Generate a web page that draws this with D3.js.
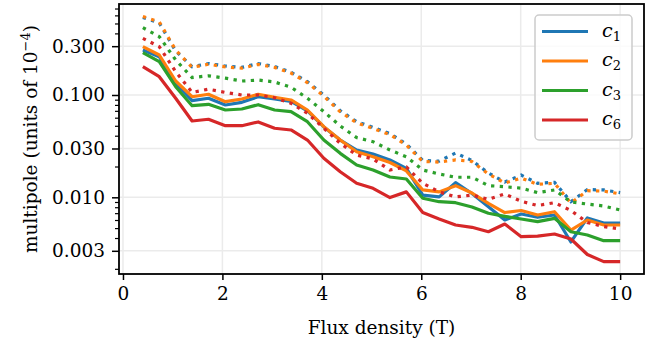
<!DOCTYPE html>
<html>
<head>
<meta charset="utf-8">
<script src="https://cdn.jsdelivr.net/npm/d3@7"></script>
<style>
  body { margin: 0; background: #fff; }
  text { font-family: "DejaVu Serif", serif; }
</style>
</head>
<body>
<div id="chart"></div>
<script>
/* Multipole vs flux density - log scale */

const fluxDensity = [0.40, 0.73, 1.06, 1.39, 1.72, 2.06, 2.39, 2.72, 3.05, 3.38,
  3.71, 4.04, 4.37, 4.70, 5.03, 5.37, 5.70, 6.03, 6.36, 6.69,
  7.02, 7.35, 7.68, 8.01, 8.34, 8.68, 9.01, 9.34, 9.67, 10.00];

// solid lines
const c1Solid = [0.275, 0.237, 0.130, 0.0880, 0.0929, 0.0798, 0.0848, 0.0962, 0.0914, 0.0864,
  0.0698, 0.0487, 0.0363, 0.0290, 0.0265, 0.0232, 0.0192, 0.0105, 0.0101, 0.0139,
  0.0109, 0.00809, 0.00600, 0.00687, 0.00638, 0.00671, 0.00366, 0.00628, 0.00561, 0.00561];
const c2Solid = [0.297, 0.246, 0.137, 0.0962, 0.1016, 0.0860, 0.0914, 0.1016, 0.0950, 0.0894,
  0.0713, 0.0490, 0.0363, 0.0279, 0.0249, 0.0219, 0.0181, 0.0118, 0.0113, 0.0130,
  0.0110, 0.00874, 0.00710, 0.00743, 0.00671, 0.00723, 0.00479, 0.00600, 0.00536, 0.00536];
const c3Solid = [0.259, 0.212, 0.1205, 0.0786, 0.0811, 0.0713, 0.0730, 0.0804, 0.0713, 0.0687,
  0.0548, 0.0363, 0.0269, 0.0207, 0.0185, 0.0158, 0.0151, 0.00978, 0.00906, 0.00886,
  0.00804, 0.00698, 0.00652, 0.00614, 0.00578, 0.00623, 0.00461, 0.00428, 0.00377, 0.00377];
const c6Solid = [0.189, 0.151, 0.0929, 0.0557, 0.0579, 0.0501, 0.0501, 0.0545, 0.0473, 0.0455,
  0.0363, 0.0241, 0.0178, 0.0137, 0.01225, 0.00995, 0.0113, 0.00710, 0.00614, 0.00536,
  0.00509, 0.00461, 0.00548, 0.00412, 0.00417, 0.00438, 0.00391, 0.00276, 0.00235, 0.00235];

// dotted lines
const c1Dotted = [0.572, 0.506, 0.269, 0.189, 0.203, 0.192, 0.186, 0.203, 0.190, 0.167,
  0.135, 0.100, 0.0702, 0.0548, 0.0483, 0.0420, 0.0332, 0.0229, 0.0226, 0.0271,
  0.0229, 0.0173, 0.0141, 0.0165, 0.0137, 0.0140, 0.00906, 0.0119, 0.0118, 0.0111];
const c2Dotted = [0.585, 0.517, 0.275, 0.186, 0.200, 0.188, 0.183, 0.199, 0.186, 0.164,
  0.132, 0.0975, 0.0685, 0.0535, 0.0471, 0.0410, 0.0324, 0.0224, 0.0221, 0.0232,
  0.0224, 0.0169, 0.0138, 0.0154, 0.0134, 0.0137, 0.00880, 0.0116, 0.0115, 0.0108];
const c3Dotted = [0.455, 0.372, 0.220, 0.148, 0.154, 0.146, 0.137, 0.140, 0.134, 0.119,
  0.0929, 0.0687, 0.0498, 0.0383, 0.0350, 0.0290, 0.0249, 0.0185, 0.0169, 0.0157,
  0.0157, 0.0130, 0.0127, 0.0123, 0.0111, 0.0118, 0.0090, 0.0086, 0.00822, 0.00751];
const c6Dotted = [0.358, 0.297, 0.169, 0.106, 0.114, 0.106, 0.100, 0.100, 0.0941, 0.0830,
  0.0662, 0.0473, 0.0337, 0.0259, 0.0237, 0.0185, 0.0198, 0.0137, 0.0113, 0.0101,
  0.0105, 0.00956, 0.0108, 0.00914, 0.00831, 0.00886, 0.00743, 0.00567, 0.00518, 0.00490];

const legendSubscripts = ['1', '2', '3', '6'];
const xTicks = [0, 2, 4, 6, 8, 10];
const yMajorTicks = [0.003, 0.01, 0.03, 0.1, 0.3];
const yTickLabels = ['0.003', '0.010', '0.030', '0.100', '0.300'];
const yMinorTicks = [0.002, 0.004, 0.005, 0.006, 0.007, 0.008, 0.009,
  0.02, 0.04, 0.05, 0.06, 0.07, 0.08, 0.09, 0.2, 0.4, 0.5, 0.6, 0.7];

const colors = ['#1f77b4', '#ff7f0e', '#2ca02c', '#d62728'];
const solidSeries = [c1Solid, c2Solid, c3Solid, c6Solid];
const dottedSeries = [c1Dotted, c2Dotted, c3Dotted, c6Dotted];

// Dimensions
const width = 657;
const height = 347;
const margin = { top: 4, right: 13, bottom: 73, left: 119 };
const fontSize = '18.5px';

const svg = d3.select('#chart')
  .append('svg')
  .attr('width', width)
  .attr('height', height);

// Scales
const x = d3.scaleLinear()
  .domain([-0.08, 10.48])
  .range([margin.left, width - margin.right]);

const y = d3.scaleLog()
  .domain([0.00178, 0.775])
  .range([height - margin.bottom, margin.top]);

const gridColor = '#ebebeb';

// Grid
svg.append('g')
  .selectAll('line')
  .data(xTicks)
  .enter()
  .append('line')
  .attr('x1', d => x(d))
  .attr('x2', d => x(d))
  .attr('y1', margin.top)
  .attr('y2', height - margin.bottom)
  .attr('stroke', gridColor)
  .attr('stroke-width', 1.5);

svg.append('g')
  .selectAll('line')
  .data(yMajorTicks)
  .enter()
  .append('line')
  .attr('x1', margin.left)
  .attr('x2', width - margin.right)
  .attr('y1', d => y(d))
  .attr('y2', d => y(d))
  .attr('stroke', gridColor)
  .attr('stroke-width', 1.5);

// Lines
const line = d3.line()
  .x((d, i) => x(fluxDensity[i]))
  .y(d => y(d));

const plotG = svg.append('g');
colors.forEach((color, i) => {
  plotG.append('path')
    .datum(solidSeries[i])
    .attr('d', line)
    .attr('fill', 'none')
    .attr('stroke', color)
    .attr('stroke-width', 3.2)
    .attr('stroke-linejoin', 'round');

  plotG.append('path')
    .datum(dottedSeries[i])
    .attr('d', line)
    .attr('fill', 'none')
    .attr('stroke', color)
    .attr('stroke-width', 3.2)
    .attr('stroke-dasharray', '3.3,5.4');
});

// Axes
const xAxis = svg.append('g')
  .attr('transform', `translate(0,${height - margin.bottom})`)
  .call(d3.axisBottom(x).tickValues(xTicks).tickSize(6).tickPadding(7).tickFormat(d3.format('d')));

const yAxis = svg.append('g')
  .attr('transform', `translate(${margin.left},0)`)
  .call(d3.axisLeft(y).tickValues(yMajorTicks).tickSize(7).tickPadding(7)
    .tickFormat((d, i) => yTickLabels[i]));

svg.append('g')
  .attr('transform', `translate(${margin.left},0)`)
  .call(d3.axisLeft(y).tickValues(yMinorTicks).tickSize(4).tickFormat(''))
  .call(g => g.select('.domain').remove())
  .selectAll('line')
  .attr('stroke-width', 1.2);

[xAxis, yAxis].forEach(ax => {
  ax.select('.domain').remove();
  ax.selectAll('line').attr('stroke', '#000').attr('stroke-width', 1.5);
  ax.selectAll('text')
    .attr('fill', '#000')
    .attr('font-size', fontSize)
    .style('font-family', '"DejaVu Serif", serif');
});

// Frame
svg.append('rect')
  .attr('x', margin.left)
  .attr('y', margin.top)
  .attr('width', width - margin.left - margin.right)
  .attr('height', height - margin.top - margin.bottom)
  .attr('fill', 'none')
  .attr('stroke', '#000')
  .attr('stroke-width', 1.8);

// Axis labels
svg.append('text')
  .attr('x', (margin.left + width - margin.right) / 2)
  .attr('y', 334)
  .attr('text-anchor', 'middle')
  .attr('font-size', fontSize)
  .text('Flux density (T)');

const yLabel = svg.append('text')
  .attr('transform', `translate(37,${(margin.top + height - margin.bottom) / 2}) rotate(-90)`)
  .attr('text-anchor', 'middle')
  .attr('font-size', fontSize);
yLabel.append('tspan').text('multipole (units of 10');
yLabel.append('tspan').attr('dy', -7).attr('font-size', '13px').text('\u22124');
yLabel.append('tspan').attr('dy', 7).text(')');

// Legend
const legend = svg.append('g');
legend.append('rect')
  .attr('x', 535)
  .attr('y', 15)
  .attr('width', 97)
  .attr('height', 125)
  .attr('rx', 4)
  .attr('fill', '#fff')
  .attr('fill-opacity', 0.8)
  .attr('stroke', '#cccccc')
  .attr('stroke-width', 1.5);

legendSubscripts.forEach((sub, i) => {
  const ly = 31.5 + i * 29.5;
  legend.append('line')
    .attr('x1', 542)
    .attr('x2', 588)
    .attr('y1', ly)
    .attr('y2', ly)
    .attr('stroke', colors[i])
    .attr('stroke-width', 3.2);
  const t = legend.append('text')
    .attr('x', 602)
    .attr('y', ly + 5)
    .attr('font-size', '19px');
  t.append('tspan').attr('font-style', 'italic').text('c');
  t.append('tspan').attr('dy', 4).attr('font-size', '13px').text(sub);
});
</script>
</body>
</html>
